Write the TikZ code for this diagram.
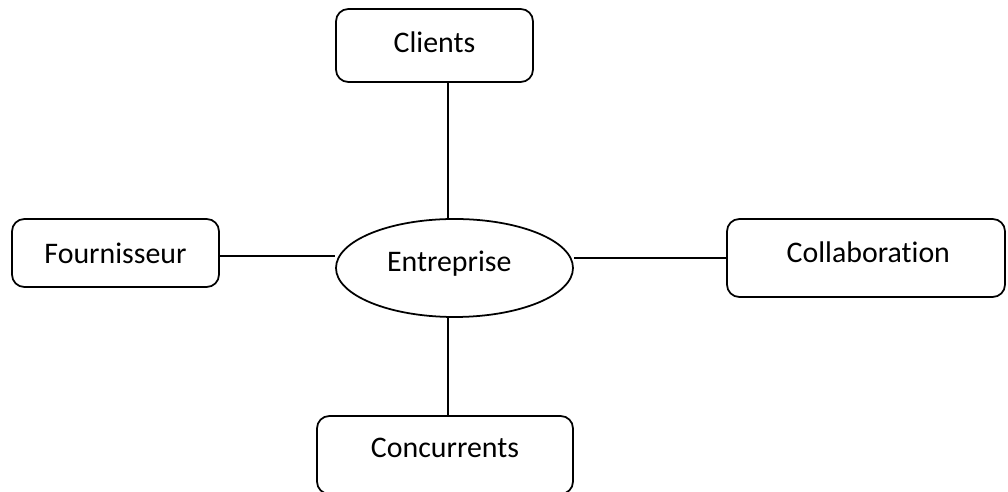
\documentclass[tikz,border=0pt]{standalone}
\usepackage{fontspec}
\setmainfont{Carlito}[Ligatures=NoCommon]
\usetikzlibrary{positioning}
\usetikzlibrary{shapes.geometric}

\tikzset{
	boite/.style = {draw, rounded corners = 7pt, line width = 1pt, inner sep = 0pt, font = \fontsize{17}{20}\selectfont},
	centre/.style = {draw, ellipse, line width = 1pt, inner sep = 0pt, font = \fontsize{17}{20}\selectfont},
	lien/.style = {line width = 1pt}
}

\begin{document}
\begin{tikzpicture}[x = 0.02cm, y = -0.02cm]
		% cadre de la figure
		\useasboundingbox (0, 0) rectangle (1008, 492);
		% noeud central
		\node[centre, minimum width = 237*0.02cm, minimum height = 98*0.02cm, text width = 2.7cm, align = left, text depth = 0.28cm] (ent) at (454.5, 268) {Entreprise};
		% les quatre partenaires
		\node[boite, minimum width = 197*0.02cm, minimum height = 73*0.02cm, text depth = 0.14cm] (clients) at (434.5, 45.5) {Clients};
		\node[boite, minimum width = 207*0.02cm, minimum height = 68*0.02cm] (four) at (115.5, 253) {Fournisseur};
		\node[boite, minimum width = 278*0.02cm, minimum height = 78*0.02cm, text width = 3.36cm, align = right, text depth = 0.24cm] (collab) at (866, 258) {Collaboration};
		\node[boite, minimum width = 256*0.02cm, minimum height = 78*0.02cm, text depth = 0.28cm] (conc) at (445, 455) {Concurrents};
		% axe vertical des liaisons
		\coordinate (axe) at (448, 0);
		% liaisons avec l'entreprise
		\draw[lien] (clients.south -| axe) -- (ent.north -| axe);
		\draw[lien] (conc.north -| axe) -- (ent.south -| axe);
		\draw[lien] ([yshift = -0.06cm]four.east) -- ([yshift = -0.06cm]four.east -| ent.west);
		\draw[lien] (collab.west) -- (collab.west -| ent.east);
	\end{tikzpicture}
\end{document}
